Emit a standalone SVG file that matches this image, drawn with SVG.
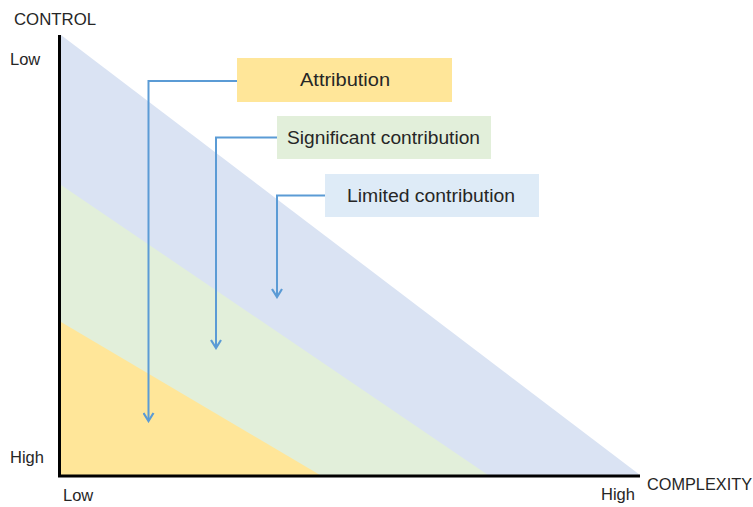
<svg xmlns="http://www.w3.org/2000/svg" width="753" height="507" viewBox="0 0 753 507">
<defs>
<style>
text{font-family:"Liberation Sans",Arial,sans-serif;font-size:16.5px;fill:#262626}
.lbl{text-anchor:middle;font-size:17.5px}
.conn{fill:none;stroke:#5B9BD5;stroke-width:2}
.axis{fill:none;stroke:#000;stroke-width:3}
</style>
<marker id="arr" viewBox="0 0 12 12" refX="10" refY="6" markerWidth="12" markerHeight="12" markerUnits="userSpaceOnUse" orient="auto">
<path d="M2,1 L10,6 L2,11" fill="none" stroke="#5B9BD5" stroke-width="2.2"/>
</marker>
</defs>
<rect width="753" height="507" fill="#fff"/>
<g id="zones">
<polygon points="61,35 61,475 640,475" fill="#DAE3F3"/>
<polygon points="61,185 61,475 488,475" fill="#E2EFDA"/>
<polygon points="61,322 61,475 320,475" fill="#FFE699"/>
</g>
<g id="axes">
<path class="axis" d="M59.5,35 V476 H640"/>
<text x="14" y="25" textLength="82" lengthAdjust="spacingAndGlyphs">CONTROL</text>
<text x="10" y="65">Low</text>
<text x="10" y="463">High</text>
<text x="63" y="501">Low</text>
<text x="601" y="500">High</text>
<text x="647" y="490" textLength="105" lengthAdjust="spacingAndGlyphs">COMPLEXITY</text>
</g>
<g id="attribution">
<rect x="237" y="58" width="215" height="44" fill="#FFE699"/>
<text class="lbl" x="345" y="86" textLength="90" lengthAdjust="spacingAndGlyphs">Attribution</text>
</g>
<g id="significant">
<rect x="277" y="116" width="214" height="43" fill="#E2EFDA"/>
<text class="lbl" x="383.5" y="144" textLength="193" lengthAdjust="spacingAndGlyphs">Significant contribution</text>
</g>
<g id="limited">
<rect x="325" y="174" width="214" height="43" fill="#DEEBF7"/>
<text class="lbl" x="431" y="202" textLength="168" lengthAdjust="spacingAndGlyphs">Limited contribution</text>
</g>
<g id="connectors">
<path class="conn" d="M237,81 H148.5 V421" marker-end="url(#arr)"/>
<path class="conn" d="M277,137.5 H216 V348" marker-end="url(#arr)"/>
<path class="conn" d="M325,195.5 H277 V297" marker-end="url(#arr)"/>
</g>
</svg>
